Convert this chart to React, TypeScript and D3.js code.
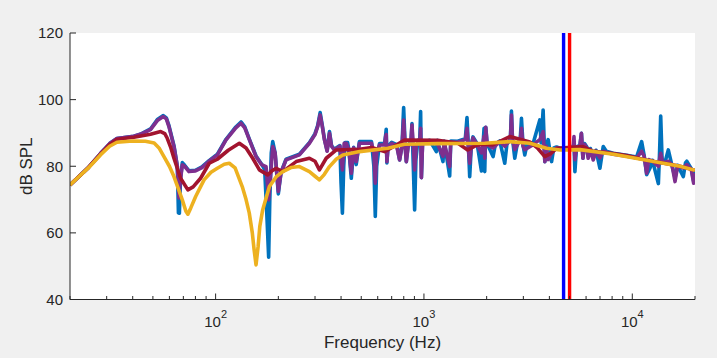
import * as d3 from "d3";

type Pt = [number, number];

// [frequency Hz, dB SPL]
const blueTrace: Pt[] = [
  [20, 74.4], [24.5, 79.6], [28, 83.8], [31, 86.8], [33.6, 88.3], [40.5, 89.0], [43.5, 89.6], [48.7, 91.2],
  [52.5, 94.0], [56.1, 95.2], [58, 94.5], [59.7, 92.2], [63.1, 86.2], [65.5, 80], [66.3, 66], [67, 65.9],
  [67.8, 76], [69.2, 81.1], [71, 80.3], [74.5, 78.6], [80, 78.8], [86, 79.8], [93, 81.7], [102, 83.6],
  [112.2, 88.1], [125, 91.8], [132.4, 93.3], [138, 91.8], [145.3, 88.1], [156.3, 83.1], [166, 80.7],
  [172, 79], [176, 66], [179.7, 52.7], [182, 70], [185, 84], [188, 87.4], [193, 84], [200, 71.7], [206, 78.2],
  [217.8, 82.1], [252.5, 83.6], [282, 87.1], [300, 89.8], [309, 92.2], [317.5, 96.1], [325, 92.3], [333, 88.1],
  [343, 84.7], [352, 90.4], [360, 86.2], [371, 85.1], [395, 86.2], [400, 75], [406, 65.9], [412, 80],
  [418, 87.1], [430, 87.1], [436, 85], [448, 76.4], [460, 85.7], [473, 80.5], [490, 87.4], [560, 87.4],
  [575, 80], [584, 64.9], [593, 80], [612, 86.8], [647, 86.8], [655, 89.5], [659, 91.1], [664, 81], [672, 86],
  [700, 87.2], [740, 86.5], [764, 81.9], [785, 86.5], [799, 97.6], [812, 86.5], [823, 81.4], [840, 86.5],
  [866, 87.4], [876, 92.8], [889, 80], [902, 66.9], [915, 82], [935, 87.8], [955, 88], [964, 96.4],
  [972, 76.6], [985, 87.3], [1065, 87.8], [1147, 84.4], [1160, 87.8], [1234, 81.4], [1250, 87.6],
  [1329, 77.1], [1345, 87.6], [1452, 87.5], [1580, 88.3], [1609, 94.6], [1640, 84], [1658, 76.9],
  [1690, 86.8], [1720, 88.8], [1800, 86.8], [1888, 78.6], [1943, 91.4], [1958, 78.4], [1980, 91.7],
  [2010, 86.8], [2147, 82.9], [2200, 86.5], [2312, 87.6], [2443, 80.9], [2500, 86.5], [2600, 88.3],
  [2630, 96.6], [2660, 88.3], [2729, 82.4], [2800, 86.5], [2900, 88.3], [2938, 94.4], [2990, 86.3],
  [3048, 83.4], [3120, 86.5], [3342, 86.8], [3598, 93.9], [3650, 87], [3733, 96.9], [3804, 81.4],
  [3870, 86.3], [3946, 88], [4098, 81.4], [4200, 85.5], [4330, 85.8], [4592, 85.2], [5203, 85.8],
  [5250, 87], [5304, 78.4], [5400, 85.8], [5605, 86.3], [5700, 89.9], [5794, 82.4], [5900, 86.8],
  [6055, 85.8], [6140, 83], [6300, 85.3], [6494, 82.5], [6700, 84.8], [6993, 79.4], [7254, 85.9],
  [7500, 84.5], [8102, 83.9], [9400, 83.3], [10500, 82.8], [11090, 87.4], [11400, 83.3], [11720, 77.5],
  [12170, 79.5], [12500, 81.8], [13340, 74.8], [13500, 83], [13690, 95.1], [13900, 82], [14400, 81.5],
  [14890, 84.9], [15400, 81], [16040, 76.5], [16500, 80.3], [17580, 76.9], [18000, 81], [18260, 81.5],
  [19200, 79.3], [19700, 75.5], [20000, 79],
];

const purpleTrace: Pt[] = [
  [20, 74.4], [24.5, 79.6], [28, 83.8], [31, 86.8], [33.6, 88.3], [40.5, 89.0], [43.5, 89.6], [48.7, 91.0],
  [52.5, 93.7], [56.1, 94.9], [58, 94.2], [59.7, 91.9], [63.1, 85.9], [65.5, 79.9], [66.7, 70.5], [67.5, 75],
  [69.2, 80.4], [71, 80], [74.5, 78.4], [80, 78.6], [86, 79.6], [93, 81.5], [102, 83.4], [112.2, 87.9],
  [125, 91.5], [132.4, 92.9], [138, 91.5], [145.3, 87.9], [156.3, 82.9], [166, 80.5], [174.6, 79.9],
  [179.7, 69.9], [184, 78], [188, 85.9], [193, 84], [200, 72.4], [206, 78], [217.8, 81.9], [252.5, 83.4],
  [282, 86.9], [300, 89.5], [309, 91.9], [317.5, 95.4], [325, 92], [333, 87.9], [343, 84.5], [352, 89.9],
  [360, 86], [371, 84.9], [395, 86], [406, 78.9], [414, 86.9], [424, 86.9], [436, 85], [448, 77.9],
  [460, 85.5], [473, 81.4], [490, 86.9], [560, 86.9], [575, 84], [584, 74.9], [593, 84], [612, 86.4],
  [647, 86.4], [655, 88.9], [659, 89.5], [664, 81.4], [672, 85.5], [700, 86.9], [740, 86], [764, 81.9],
  [785, 86], [799, 93.9], [812, 86], [823, 81.4], [840, 86], [866, 87], [876, 92.4], [889, 86], [902, 78.9],
  [920, 86.5], [955, 87.5], [964, 91.4], [972, 76.6], [985, 87], [1065, 87.6], [1147, 87.5], [1234, 83],
  [1250, 87.3], [1329, 79.9], [1345, 87.3], [1452, 87.2], [1580, 88], [1609, 91.4], [1640, 84],
  [1658, 80.9], [1690, 86.5], [1720, 88.5], [1800, 86.5], [1888, 84], [1943, 89], [1958, 82.4],
  [1980, 91.7], [2010, 86.5], [2147, 85.5], [2312, 87.4], [2443, 86], [2600, 88], [2630, 95.4],
  [2660, 88], [2729, 85], [2900, 88], [2938, 91.4], [2990, 86], [3048, 85], [3342, 86.5], [3598, 88],
  [3733, 90.4], [3804, 81.4], [3870, 86], [3946, 82], [4098, 84], [4330, 85.5], [4592, 85.2], [5203, 85.5],
  [5250, 88.9], [5304, 82], [5400, 85.5], [5605, 86], [5700, 89.9], [5794, 82.4], [5900, 86.5],
  [6055, 85.5], [6140, 82.4], [6300, 85], [6494, 81.9], [6700, 84.5], [6993, 82.5], [7254, 84.5],
  [8102, 83.6], [9400, 83], [10500, 82.5], [11090, 84.5], [11400, 83], [11720, 77.9], [12000, 82],
  [12500, 81.5], [13340, 80], [13690, 83.9], [14000, 81], [14890, 81.5], [15500, 80.5], [16040, 75.4],
  [16500, 80], [17580, 79.5], [18260, 80.5], [19200, 79], [19700, 74.9], [20000, 78],
];

const redTrace: Pt[] = [
  [20, 74.4], [24.5, 79.6], [28, 83.6], [31, 86.5], [33.6, 88.1], [40.5, 88.7], [48.7, 89.6], [54.5, 90.4],
  [57, 89.8], [58.6, 88.4], [61, 85.5], [63.1, 82.4], [67.9, 76.4], [73.6, 72.9], [78, 73.8], [84.7, 76.4],
  [93.2, 80.9], [101.9, 82.1], [115, 84.8], [130, 86.9], [140, 85.5], [150.7, 82.4], [162.2, 78.9],
  [177.8, 77.4], [186, 78.6], [195, 79.4], [210, 78.4], [243.6, 81.4], [282, 82.4], [300, 81.5],
  [315, 78.9], [339.5, 82.4], [379.6, 84.9], [491, 85.1], [560, 85.6], [647, 84.4], [720, 86], [807, 87.9],
  [1164, 87.8], [1450, 87], [1622, 84.9], [1800, 86.4], [1958, 86.6], [2138, 86.4], [2584, 88.9],
  [3222, 87.3], [3500, 85.5], [3802, 82.9], [4050, 83.8], [4335, 85.4], [5797, 85.9], [6400, 84.6],
  [8110, 83.8], [9400, 83.2], [11730, 81.8], [14000, 81], [16950, 80.0], [20000, 78.8],
];

const yellowTrace: Pt[] = [
  [20, 74.4], [24.5, 79.5], [28, 83.4], [31, 86], [33.6, 87.2], [40, 87.6], [46, 87.5], [50.7, 87.0],
  [53.5, 85.5], [56.5, 82.9], [60, 80], [63.1, 76.9], [66, 73.5], [69.2, 69.9], [72, 66.5], [73.6, 65.6],
  [76, 67.5], [80.2, 70.9], [88, 75.9], [95, 78.2], [101.9, 79.4], [110, 80.6], [116.3, 80.9], [124, 79.5],
  [134.2, 73.9], [140, 70], [145, 66], [150, 60], [153, 55], [156.3, 50.4], [160, 56], [163, 62],
  [168.2, 66.9], [181.2, 73.9], [195, 76.8], [210, 78.4], [230, 79.6], [252.5, 79.9], [282, 78.4],
  [300, 77], [315, 75.9], [332, 77.5], [352, 79.9], [380, 82.2], [408, 83.4], [491, 84.4], [671, 85.4],
  [807, 86.6], [1164, 86.8], [1958, 86.9], [2584, 87.4], [3222, 86.9], [3873, 85.4], [4500, 84.9],
  [5606, 85.0], [8110, 83.6], [11730, 81.8], [16950, 80.0], [20000, 78.8],
];

const traces = [blueTrace, purpleTrace, redTrace, yellowTrace];
const traceColors = ["#0072bd", "#7e2f8e", "#a2142f", "#edb120"];

const markerFreqs = [4680, 5000];
const markerColors = ["#0000ff", "#ff0000"];

const yTicks = [40, 60, 80, 100, 120];
const xDecades = [2, 3, 4];

export default function App() {
  const W = 717;
  const H = 358;
  const left = 70, right = 695, top = 33, bottom = 299.5;
  const axisColor = "#262626";
  const font = "'Liberation Sans', Arial, Helvetica, sans-serif";

  const x = d3.scaleLog().domain([20, 20000]).range([left, right]);
  const y = d3.scaleLinear().domain([40, 120]).range([bottom, top]);
  const line = d3.line<Pt>().x((d) => x(d[0])).y((d) => y(d[1]));
  const minorTicks = x.ticks().filter((t) => !xDecades.some((p) => Math.abs(t - 10 ** p) < 1e-6));

  return (
    <svg width={W} height={H} style={{ position: "fixed", left: 0, top: 0, display: "block" }}>
      <rect width={W} height={H} fill="#f0f0f0" />
      <rect x={left} y={top} width={right - left} height={bottom - top} fill="#fff" />
      <defs>
        <clipPath id="plotArea">
          <rect x={left} y={top} width={right - left} height={bottom - top} />
        </clipPath>
      </defs>
      <g clipPath="url(#plotArea)">
        {traces.map((t, i) => (
          <path key={i} d={line(t) || ""} fill="none" stroke={traceColors[i]} strokeWidth={3.6} strokeLinejoin="round" />
        ))}
        {markerFreqs.map((f, i) => (
          <line key={f} x1={x(f)} x2={x(f)} y1={top} y2={bottom} stroke={markerColors[i]} strokeWidth={3.4} />
        ))}
      </g>

      {/* axes */}
      <g stroke={axisColor} strokeWidth={1} fill="none">
        <line x1={left} x2={left} y1={top} y2={bottom} />
        <line x1={left} x2={right} y1={bottom} y2={bottom} />
        {yTicks.map((t) => (
          <line key={t} x1={left} x2={left + 6} y1={y(t)} y2={y(t)} />
        ))}
        {xDecades.map((p) => (
          <line key={p} x1={x(10 ** p)} x2={x(10 ** p)} y1={bottom} y2={bottom - 6} />
        ))}
        {minorTicks.map((t) => (
          <line key={t} x1={x(t)} x2={x(t)} y1={bottom} y2={bottom - 3.5} />
        ))}
      </g>

      <g fill={axisColor} fontFamily={font} fontSize={15}>
        {yTicks.map((t) => (
          <text key={t} x={left - 7} y={y(t)} dy="0.36em" textAnchor="end">
            {t}
          </text>
        ))}
        {xDecades.map((p) => (
          <text key={p} x={x(10 ** p)} y={326.5} textAnchor="middle">
            10
            <tspan fontSize={11} dy={-8.5}>
              {p}
            </tspan>
          </text>
        ))}
      </g>

      <text x={(left + right) / 2} y={348} textAnchor="middle" fontFamily={font} fontSize={17} fill={axisColor}>
        Frequency (Hz)
      </text>
      <text
        transform={`translate(31.5, ${(top + bottom) / 2}) rotate(-90)`}
        textAnchor="middle"
        fontFamily={font}
        fontSize={17}
        fill={axisColor}
      >
        dB SPL
      </text>
    </svg>
  );
}
